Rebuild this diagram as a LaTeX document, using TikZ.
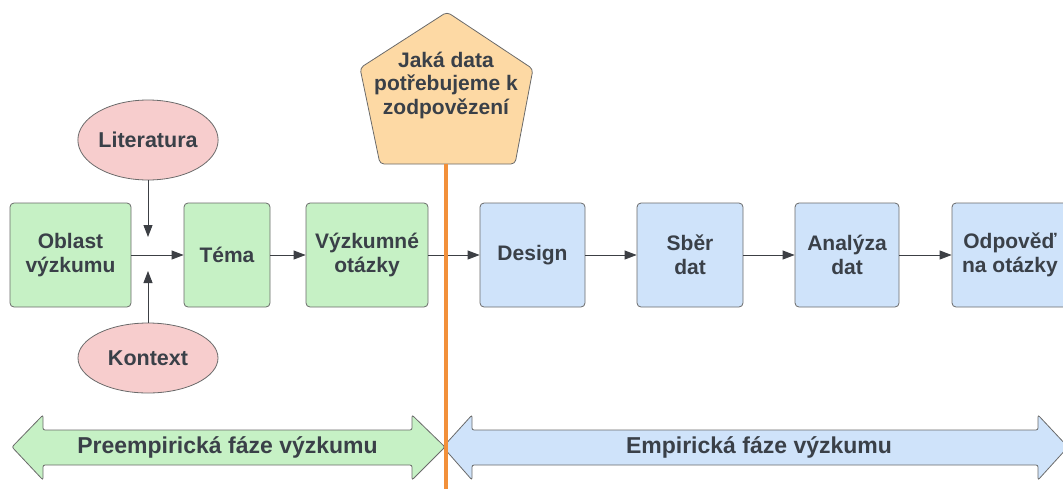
\documentclass[tikz,border=0pt]{standalone}
\usepackage{fontspec}
\setmainfont{Liberation Sans}
\usetikzlibrary{arrows.meta,shapes.geometric}

\definecolor{txt}{HTML}{3A4048}
\definecolor{edge}{HTML}{6A6A6A}
\definecolor{link}{HTML}{3C3F44}
\definecolor{greenfill}{HTML}{C6F1C5}
\definecolor{bluefill}{HTML}{CFE3FA}
\definecolor{pinkfill}{HTML}{F7CDCD}
\definecolor{peachfill}{HTML}{FDD9A4}
\definecolor{orangeline}{HTML}{F2903A}

\tikzset{
  box/.style={draw=edge, line width=0.8pt, rounded corners=4pt, align=center,
    text=txt, font=\fontsize{21}{24.5}\selectfont\bfseries,
    minimum height=104pt, inner sep=0pt},
  prebox/.style={box, fill=greenfill},
  empbox/.style={box, fill=bluefill},
  bubble/.style={ellipse, draw=edge, line width=0.8pt, fill=pinkfill,
    text=txt, font=\fontsize{21.5}{25}\selectfont\bfseries,
    minimum width=140pt, inner sep=0pt},
  flow/.style={draw=link, line width=0.9pt,
    -{Triangle[length=12pt,width=9pt]}},
  phase/.style={draw=edge, line width=0.8pt, rounded corners=2pt},
  phasetext/.style={text=txt, font=\fontsize{23}{26}\selectfont\bfseries},
}

\begin{document}
\begin{tikzpicture}[x=1pt, y=-1pt]
\useasboundingbox (0,0) rectangle (1063,488);
\clip (0,0) rectangle (1063,488);

% research question node (pentagon)
\coordinate (pt) at (447,12);
\coordinate (pl) at (360,68);
\coordinate (pbl) at (380,164);
\coordinate (pbr) at (515,164);
\coordinate (pr) at (533,69);
\coordinate (pb) at (446,164);
\draw[draw=edge, line width=0.8pt, fill=peachfill, rounded corners=4pt]
  (pt) -- (pl) -- (pbl) -- (pbr) -- (pr) -- cycle;
\node[align=center, text=txt, font=\fontsize{21}{23.5}\selectfont\bfseries]
  (q) at (446,85) {Jaká data\\potřebujeme k\\zodpovězení};

% pre-empirical steps
\node[prebox, minimum width=121pt] (oblast) at (70.5,255) {Oblast\\výzkumu};
\node[prebox, minimum width=86pt] (tema) at (227,255) {Téma};
\node[prebox, minimum width=122pt] (otazky) at (367,255) {Výzkumné\\otázky};

\node[bubble, minimum height=80pt] (lit) at (148,140) {Literatura};
\node[bubble, minimum height=70pt] (ctx) at (148,358) {Kontext};
\coordinate (litend) at (148,237);
\coordinate (ctxend) at (148,271);

% empirical steps
\node[empbox, minimum width=105pt] (design) at (532.5,255) {Design};
\node[empbox, minimum width=106pt] (sber) at (690,255) {Sběr\\dat};
\node[empbox, minimum width=104pt] (analyza) at (847,255) {Analýza\\dat};
\node[empbox, minimum width=116pt] (odpoved) at (1010,255) {Odpověď\\na otázky};

% connectors
\draw[flow] (lit) -- (litend);
\draw[flow] (ctx) -- (ctxend);
\draw[flow] (oblast) -- (tema);
\draw[flow] (tema) -- (otazky);
\draw[flow] (otazky) -- (design);
\draw[flow] (design) -- (sber);
\draw[flow] (sber) -- (analyza);
\draw[flow] (analyza) -- (odpoved);

% phase arrows
\draw[phase, fill=greenfill]
  (12,447) -- (43,415) -- (43,430) -- (412,430) -- (412,415) -- (445,447)
  -- (412,480) -- (412,465) -- (43,465) -- (43,480) -- cycle;
\node[phasetext] (pre) at (227.5,447) {Preempirická fáze výzkumu};
\draw[phase, fill=bluefill]
  (443,447) -- (472,415) -- (472,430) -- (1038,430) -- (1038,415) -- (1068,447)
  -- (1038,480) -- (1038,465) -- (472,465) -- (472,480) -- cycle;
\node[phasetext] (emp) at (759,447) {Empirická fáze výzkumu};

% boundary between the phases
\coordinate (lineend) at (446,490);
\draw[orangeline, line width=4.5pt] (pb) -- (lineend);
\end{tikzpicture}
\end{document}
